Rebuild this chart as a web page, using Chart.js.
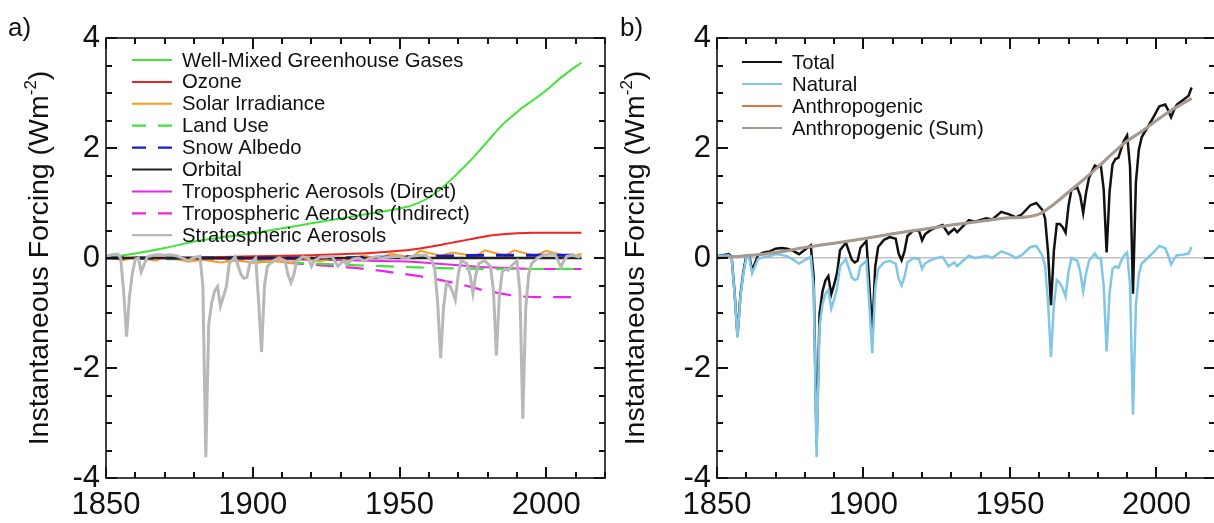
<!DOCTYPE html>
<html>
<head>
<meta charset="utf-8">
<title>Instantaneous Forcing</title>
<script src="https://cdn.jsdelivr.net/npm/chart.js@4.4.1/dist/chart.umd.min.js"></script>
<style>
  html, body { margin: 0; padding: 0; background: #fff; width: 1214px; height: 523px; overflow: hidden; }
  #wrapA { position: absolute; left: 0; top: 0; width: 612px; height: 523px; }
  #wrapB { position: absolute; left: 612px; top: 0; width: 604px; height: 523px; }
</style>
</head>
<body>
<div id="wrapA"><canvas id="chartA" width="612" height="523"></canvas></div>
<div id="wrapB"><canvas id="chartB" width="604" height="523"></canvas></div>
<script>
/* ================================================================
   Instantaneous forcing, 1850-2012 — a) components, b) totals
================================================================ */

// ── AXES ──────────────────────────────────────────────────────────────────────
var xTickValues = [1850, 1900, 1950, 2000];
var yTickValues = [-4, -2, 0, 2, 4];

// ── PANEL A : components ──────────────────────────────────────────────────────
var wmghgYears = [1850,1860,1870,1880,1890,1900,1910,1920,1930,1940,1950,1955,1960,1965,1970,1975,1980,1985,1990,1992,1995,2000,2005,2010,2012];
var wmghg      = [0,0.08,0.18,0.3,0.38,0.45,0.54,0.63,0.72,0.81,0.9,0.97,1.1,1.3,1.55,1.82,2.12,2.42,2.65,2.74,2.85,3.05,3.28,3.48,3.55];

var ozoneYears = [1850,1880,1900,1920,1930,1940,1950,1955,1960,1965,1970,1975,1980,1985,1990,1995,2000,2012];
var ozone      = [0,0.01,0.03,0.05,0.07,0.09,0.13,0.16,0.2,0.25,0.3,0.35,0.4,0.43,0.45,0.46,0.46,0.46];

var solarYears = [1850,1856,1860,1867,1870,1878,1883,1889,1894,1901,1906,1913,1917,1923,1928,1933,1937,1944,1947,1954,1957,1964,1968,1976,1979,1986,1989,1996,2000,2008,2012];
var solar      = [0.02,-0.04,0.02,-0.05,0.03,-0.07,-0.03,-0.08,-0.04,-0.09,-0.05,-0.09,-0.02,-0.06,0,-0.04,0.04,0,0.08,0.01,0.13,0.04,0.1,0.03,0.14,0.04,0.14,0.04,0.13,0.02,0.08];

var landUseYears = [1850,1870,1890,1910,1930,1950,1970,1990,2012];
var landUse      = [0,-0.02,-0.04,-0.08,-0.12,-0.16,-0.19,-0.2,-0.2];

var snowYears = [1850,1900,1940,1960,1980,2000,2012];
var snow      = [0,0,0.01,0.03,0.05,0.05,0.05];

var orbitalYears = [1850,1900,1950,2012];
var orbital      = [0,0,0,0];

var aerDirYears = [1850,1880,1900,1920,1940,1950,1960,1970,1980,1990,2000,2012];
var aerDir      = [0,-0.01,-0.02,-0.03,-0.05,-0.06,-0.09,-0.13,-0.17,-0.19,-0.2,-0.2];

var aerIndYears = [1850,1870,1890,1900,1910,1920,1930,1940,1950,1960,1970,1980,1990,2000,2012];
var aerInd      = [0,-0.01,-0.03,-0.05,-0.08,-0.12,-0.16,-0.21,-0.28,-0.36,-0.47,-0.6,-0.69,-0.71,-0.71];

// volcanic years shared by stratospheric aerosols, natural and total
var volcYears = [1850,1852,1854,1855,1856,1857,1858,1859,1860,1861,
                 1862,1864,1866,1868,1870,1872,1874,1876,1878,1880,
                 1882,1883,1884,1885,1886,1887,1888,1889,1890,1891,
                 1892,1894,1896,1897,1898,1899,1900,1901,1902,1903,
                 1904,1905,1907,1909,1911,1912,1913,1914,1915,1917,
                 1919,1920,1921,1923,1925,1927,1929,1931,1932,1934,
                 1936,1938,1940,1942,1944,1947,1950,1952,1954,1957,
                 1959,1961,1962,1963,1964,1965,1966,1967,1968,1969,
                 1970,1971,1973,1974,1975,1976,1977,1979,1980,1981,
                 1982,1983,1984,1985,1986,1987,1988,1989,1990,1991,
                 1992,1993,1994,1995,1997,1999,2001,2003,2004,2005,
                 2006,2007,2009,2011,2012];

var stratAer = [0.03,0.06,0.07,0,-0.6,-1.43,-0.7,-0.27,-0.02,0,
                -0.25,0.02,0.05,0.06,0.05,0.06,0.04,0,-0.05,0.01,
                0.03,-0.5,-3.62,-1.2,-0.82,-0.6,-0.52,-0.88,-0.7,-0.52,
                -0.1,0.02,-0.3,-0.37,-0.35,-0.1,-0.05,0,-0.8,-1.71,
                -0.5,-0.15,-0.05,0,-0.05,-0.3,-0.45,-0.3,-0.05,0.02,
                0,-0.15,-0.05,0.02,0.02,0.03,-0.15,-0.05,-0.12,-0.02,
                0,-0.05,0,0.02,0,0.02,0.03,-0.02,0.03,0.05,
                0.05,-0.05,-0.2,-0.82,-1.82,-0.9,-0.45,-0.5,-0.6,-0.76,
                -0.3,-0.05,-0.1,-0.3,-0.64,-0.3,-0.1,-0.05,-0.1,-0.15,
                -0.6,-1.77,-0.7,-0.25,-0.2,-0.22,-0.15,-0.1,-0.05,-0.6,
                -2.92,-0.9,-0.3,-0.1,0,0.05,0.07,0.07,-0.05,-0.17,
                -0.05,0.03,0.05,0.02,0.05];

// ── PANEL B : totals ──────────────────────────────────────────────────────────
var natural = [0.05,0.04,0.05,0,-0.65,-1.45,-0.7,-0.28,0,0,
               -0.28,-0.02,0.02,0.03,0.07,0.06,0.03,-0.03,-0.1,-0.04,
               0.02,-0.55,-3.62,-1.25,-0.85,-0.65,-0.58,-0.92,-0.75,-0.55,
               -0.15,-0.02,-0.35,-0.4,-0.38,-0.15,-0.1,-0.05,-0.85,-1.73,
               -0.55,-0.2,-0.08,-0.05,-0.1,-0.38,-0.5,-0.35,-0.08,0,
               -0.02,-0.2,-0.1,-0.04,0,0.02,-0.15,-0.08,-0.15,-0.05,
               0.04,0,0.02,0.04,0,0.12,0.06,0,0.05,0.2,
               0.22,0.05,-0.15,-0.8,-1.8,-0.85,-0.4,-0.45,-0.55,-0.7,
               -0.25,0,-0.05,-0.25,-0.6,-0.28,-0.05,0.08,0,0,
               -0.5,-1.7,-0.65,-0.2,-0.15,-0.18,-0.05,0.05,0.1,-0.5,
               -2.85,-0.85,-0.3,-0.1,0,0.1,0.22,0.18,0.05,-0.12,
               -0.02,0.05,0.06,0.08,0.2];

var total = [0.05,0.05,0.07,0.02,-0.63,-1.42,-0.67,-0.25,0.04,0.05,
             -0.23,0.05,0.1,0.12,0.17,0.18,0.17,0.13,0.07,0.15,
             0.23,-0.34,-3.4,-1.02,-0.61,-0.41,-0.33,-0.66,-0.48,-0.27,
             0.14,0.28,-0.03,-0.08,-0.05,0.19,0.25,0.31,-0.48,-1.35,
             -0.17,0.2,0.33,0.38,0.35,0.08,-0.04,0.12,0.4,0.5,
             0.49,0.32,0.43,0.51,0.56,0.6,0.44,0.53,0.47,0.58,
             0.69,0.66,0.69,0.72,0.7,0.84,0.79,0.74,0.79,0.96,
             1.0,0.88,0.72,0.11,-0.86,0.13,0.62,0.62,0.56,0.46,
             0.95,1.24,1.28,1.13,0.82,1.19,1.46,1.68,1.65,1.7,
             1.25,0.1,1.2,1.7,1.8,1.82,1.99,2.14,2.23,1.66,
             -0.65,1.38,1.97,2.2,2.38,2.56,2.76,2.79,2.69,2.56,
             2.69,2.79,2.87,2.95,3.1];

var anthroYears = [1850,1860,1870,1880,1890,1900,1910,1920,1930,1940,1950,1955,1960,1965,1970,1975,1980,1985,1990,1995,2000,2005,2012];
var anthro      = [0,0.04,0.1,0.19,0.27,0.35,0.44,0.52,0.6,0.67,0.73,0.75,0.8,0.97,1.19,1.42,1.66,1.9,2.12,2.31,2.5,2.69,2.9];
var anthroSum   = [0,0.04,0.1,0.19,0.27,0.35,0.44,0.52,0.6,0.67,0.73,0.74,0.8,0.98,1.2,1.42,1.65,1.9,2.13,2.3,2.5,2.68,2.9];

// ── HELPERS ───────────────────────────────────────────────────────────────────
var FONT = "'Liberation Sans', Arial, Helvetica, sans-serif";
Chart.defaults.font.family = FONT;
Chart.defaults.color = '#000';

function pts(xs, ys) {
  return xs.map(function(x, i) { return { x: x, y: ys[i] }; });
}

function serie(label, xs, ys, color, width, dash, order, smooth) {
  return {
    label: label,
    data: pts(xs, ys),
    borderColor: color,
    backgroundColor: color,
    borderWidth: width,
    borderDash: dash || [],
    pointRadius: 0,
    fill: false,
    order: order,
    cubicInterpolationMode: smooth ? 'monotone' : 'default',
    tension: 0
  };
}

// marco tipo IDL: caja, ticks hacia dentro, titulo eje y, letra y leyenda
var idlFrame = {
  id: 'idlFrame',
  afterDraw: function(chart, args, o) {
    var ctx = chart.ctx, a = chart.chartArea;
    var xs = chart.scales.x, ys = chart.scales.y;
    ctx.save();
    ctx.setLineDash([]);

    ctx.strokeStyle = '#111';
    ctx.lineWidth = 1.6;
    ctx.strokeRect(a.left, a.top, a.right - a.left, a.bottom - a.top);

    // ticks hacia dentro (rectangulos rellenos)
    ctx.fillStyle = '#111';
    var v, p, len;
    for (v = 1850; v <= 2020; v += 10) {
      p = Math.round(xs.getPixelForValue(v));
      len = (v % 50 === 0) ? 11 : 6;
      ctx.fillRect(p - 1, a.bottom - len, 2, len);
      ctx.fillRect(p - 1, a.top, 2, len);
    }
    for (v = -4; v <= 4; v += 0.5) {
      p = Math.round(ys.getPixelForValue(v));
      len = (Math.abs(v) % 2 === 0) ? 11 : 6;
      ctx.fillRect(a.left, p - 1, len, 2);
      ctx.fillRect(a.right - len, p - 1, len, 2);
    }

    // titulo eje y con superindice
    var t1 = 'Instantaneous Forcing (Wm', t2 = '-2', t3 = ')';
    var fBig = '28.5px ' + FONT, fSup = '17px ' + FONT;
    ctx.font = fBig; var w1 = ctx.measureText(t1).width, w3 = ctx.measureText(t3).width;
    ctx.font = fSup; var w2 = ctx.measureText(t2).width;
    var tot = w1 + w2 + w3;
    ctx.translate(o.titleX, (a.top + a.bottom) / 2);
    ctx.rotate(-Math.PI / 2);
    ctx.fillStyle = '#111';
    ctx.textBaseline = 'middle';
    ctx.textAlign = 'left';
    ctx.font = fBig; ctx.fillText(t1, -tot / 2, 0);
    ctx.font = fSup; ctx.fillText(t2, -tot / 2 + w1, -9);
    ctx.font = fBig; ctx.fillText(t3, -tot / 2 + w1 + w2, 0);
    ctx.setTransform(1, 0, 0, 1, 0, 0);

    // letra del panel
    ctx.font = '26px ' + FONT;
    ctx.textBaseline = 'alphabetic';
    ctx.fillText(o.letter, 8, 36);

    // leyenda
    ctx.font = '20.3px ' + FONT;
    ctx.textBaseline = 'middle';
    var row = 0;
    chart.data.datasets.forEach(function(ds) {
      if (ds.hideInLegend) return;
      var y = o.legY + row * o.legDy;
      ctx.strokeStyle = ds.borderColor;
      ctx.lineWidth = Math.min(ds.borderWidth, 2.2);
      ctx.setLineDash(ds.borderDash.length ? [14, 12] : []);
      ctx.beginPath();
      ctx.moveTo(o.legX, y); ctx.lineTo(o.legX + 40, y);
      ctx.stroke();
      ctx.setLineDash([]);
      ctx.fillStyle = '#111';
      ctx.fillText(ds.label, o.legX + 50, y + 1);
      row++;
    });
    ctx.restore();
  }
};

function opciones(axisWidth, padRight, frame, zeroLine) {
  return {
    responsive: false,
    animation: false,
    events: [],
    layout: { padding: { top: 38, right: padRight, left: 0, bottom: 0 } },
    plugins: {
      legend: { display: false },
      tooltip: { enabled: false },
      idlFrame: frame
    },
    scales: {
      x: {
        type: 'linear',
        min: 1850, max: 2020,
        afterBuildTicks: function(s) { s.ticks = xTickValues.map(function(v) { return { value: v }; }); },
        afterFit: function(s) { s.height = 45; },
        grid: { display: false, drawTicks: false },
        border: { display: false },
        ticks: { font: { size: 31 }, padding: 9, maxRotation: 0, color: '#111',
                 callback: function(v) { return String(v); } }
      },
      y: {
        min: -4, max: 4,
        afterBuildTicks: function(s) { s.ticks = yTickValues.map(function(v) { return { value: v }; }); },
        afterFit: function(s) { s.width = axisWidth; },
        grid: {
          display: zeroLine,
          drawTicks: false,
          lineWidth: 1.5,
          color: function(c) { return (c.tick && c.tick.value === 0) ? '#c2c2c2' : 'rgba(0,0,0,0)'; }
        },
        border: { display: false },
        ticks: { font: { size: 31 }, padding: 6, color: '#111',
                 callback: function(v) { return String(v); } }
      }
    }
  };
}

// ── PANEL A ───────────────────────────────────────────────────────────────────
new Chart(document.getElementById('chartA'), {
  type: 'line',
  data: {
    datasets: [
      serie('Well-Mixed Greenhouse Gases', wmghgYears, wmghg, '#3fe536', 2, null, 5, true),
      serie('Ozone', ozoneYears, ozone, '#ee2222', 2, null, 6, true),
      serie('Solar Irradiance', solarYears, solar, '#ff9a22', 2, null, 4, false),
      serie('Land Use', landUseYears, landUse, '#3fe536', 2.2, [18, 12], 7, true),
      serie('Snow Albedo', snowYears, snow, '#1a1acc', 3, [18, 12], 3, true),
      serie('Orbital', orbitalYears, orbital, '#222222', 2.5, null, 2, false),
      serie('Tropospheric Aerosols (Direct)', aerDirYears, aerDir, '#ee22ee', 2, null, 8, true),
      serie('Tropospheric Aerosols (Indirect)', aerIndYears, aerInd, '#ee22ee', 2.2, [18, 12], 9, true),
      serie('Stratospheric Aerosols', volcYears, stratAer, '#b8b8b8', 3, null, 1, false)
    ]
  },
  options: opciones(106, 7, { letter: 'a)', titleX: 40, legX: 132, legY: 60, legDy: 21.9 }, false),
  plugins: [idlFrame]
});

// ── PANEL B ───────────────────────────────────────────────────────────────────
new Chart(document.getElementById('chartB'), {
  type: 'line',
  data: {
    datasets: [
      serie('Total', volcYears, total, '#111111', 2.5, null, 4, false),
      serie('Natural', volcYears, natural, '#80c6e6', 2.5, null, 2, false),
      serie('Anthropogenic', anthroYears, anthro, '#e0743a', 2, null, 3, true),
      serie('Anthropogenic (Sum)', anthroYears, anthroSum, '#a59a92', 3, null, 1, true)
    ]
  },
  options: opciones(105, 1, { letter: 'b)', titleX: 24, legX: 130, legY: 62, legDy: 22 }, true),
  plugins: [idlFrame]
});
</script>
</body>
</html>
